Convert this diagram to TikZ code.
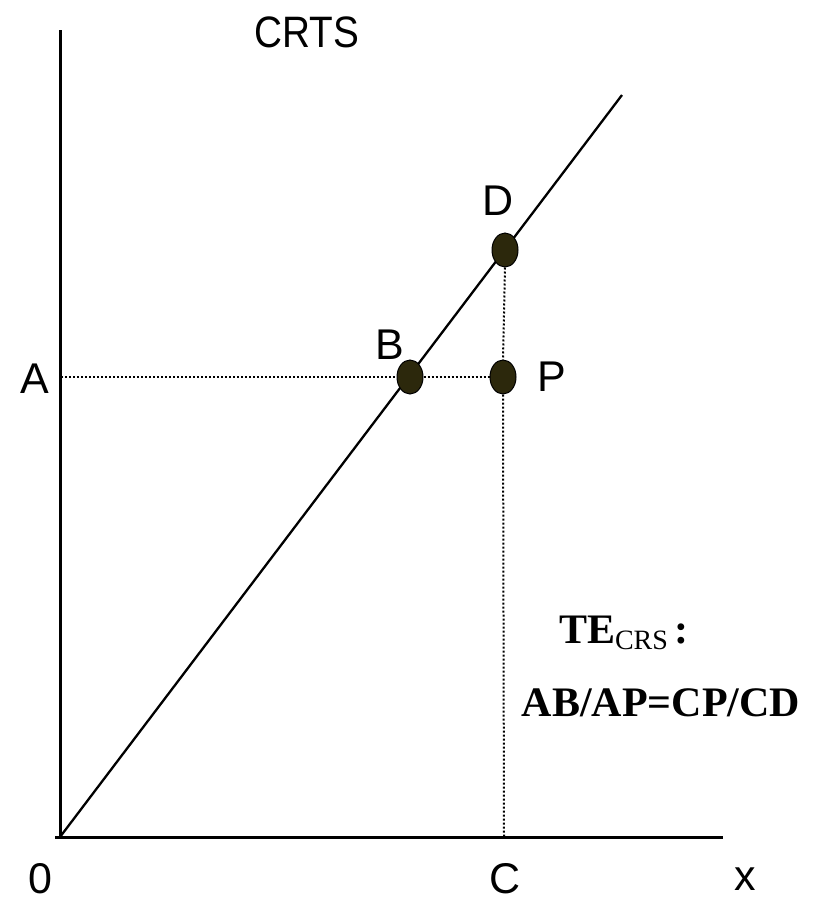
\documentclass[tikz,border=0pt]{standalone}
\usepackage{fontspec}
\setmainfont{Liberation Sans}
\newfontfamily\tnr{Liberation Serif}
\usetikzlibrary{shapes.geometric}
\definecolor{dotfill}{RGB}{44,40,12}
\begin{document}
\begin{tikzpicture}[x=1pt,y=-1pt,
  lbl/.style={font=\fontsize{43}{43}\selectfont, inner sep=0pt},
  te/.style={font=\tnr\bfseries\fontsize{42}{42}\selectfont, inner sep=0pt},
  pt/.style={ellipse, fill=dotfill, draw=black, line width=1pt, minimum width=26pt, minimum height=34pt, inner sep=0pt},
  ax/.style={line width=3pt},
  dot/.style={line width=2pt, dash pattern=on 2pt off 2pt, black}]
\useasboundingbox (0,0) rectangle (817,903);
\coordinate (O) at (60,837);
\coordinate (Ytop) at (60,30);
\coordinate (Xl) at (55,837);
\coordinate (Xr) at (723,837);
\coordinate (Lend) at (622,95);
\coordinate (Aax) at (61,377);
\coordinate (Cax) at (504,836);
\draw[ax] (O) -- (Ytop);
\draw[ax] (Xl) -- (Xr);
\draw[line width=2.3pt] (O) -- (Lend);
\node[pt] (B) at (410,377) {};
\node[pt] (P) at (503,377) {};
\node[pt] (D) at (505,250) {};
\draw[dot] (Aax) -- (B.west);
\draw[dot] (B.east) -- (P.west);
\draw[dot] (D.south) -- (P.north);
\draw[dot] (P.south) -- (Cax);
\node[lbl, xscale=0.88, font=\fontsize{44}{44}\selectfont] (crts) at (307,32) {CRTS};
\node[lbl] (lD) at (498,201) {D};
\node[lbl] (lB) at (390,345) {B};
\node[lbl] (lP) at (552,377) {P};
\node[lbl] (lA) at (35,379) {A};
\node[lbl] (l0) at (40,879) {0};
\node[lbl] (lC) at (505,879) {C};
\node[lbl] (lx) at (745,879) {x};
\node[te] (te) at (624,633) {TE\raisebox{-0.35ex}{\normalfont\tnr\fontsize{28}{28}\selectfont CRS}\,:};
\node[te] (eq) at (661,703) {AB/AP=CP/CD};
\end{tikzpicture}
\end{document}
